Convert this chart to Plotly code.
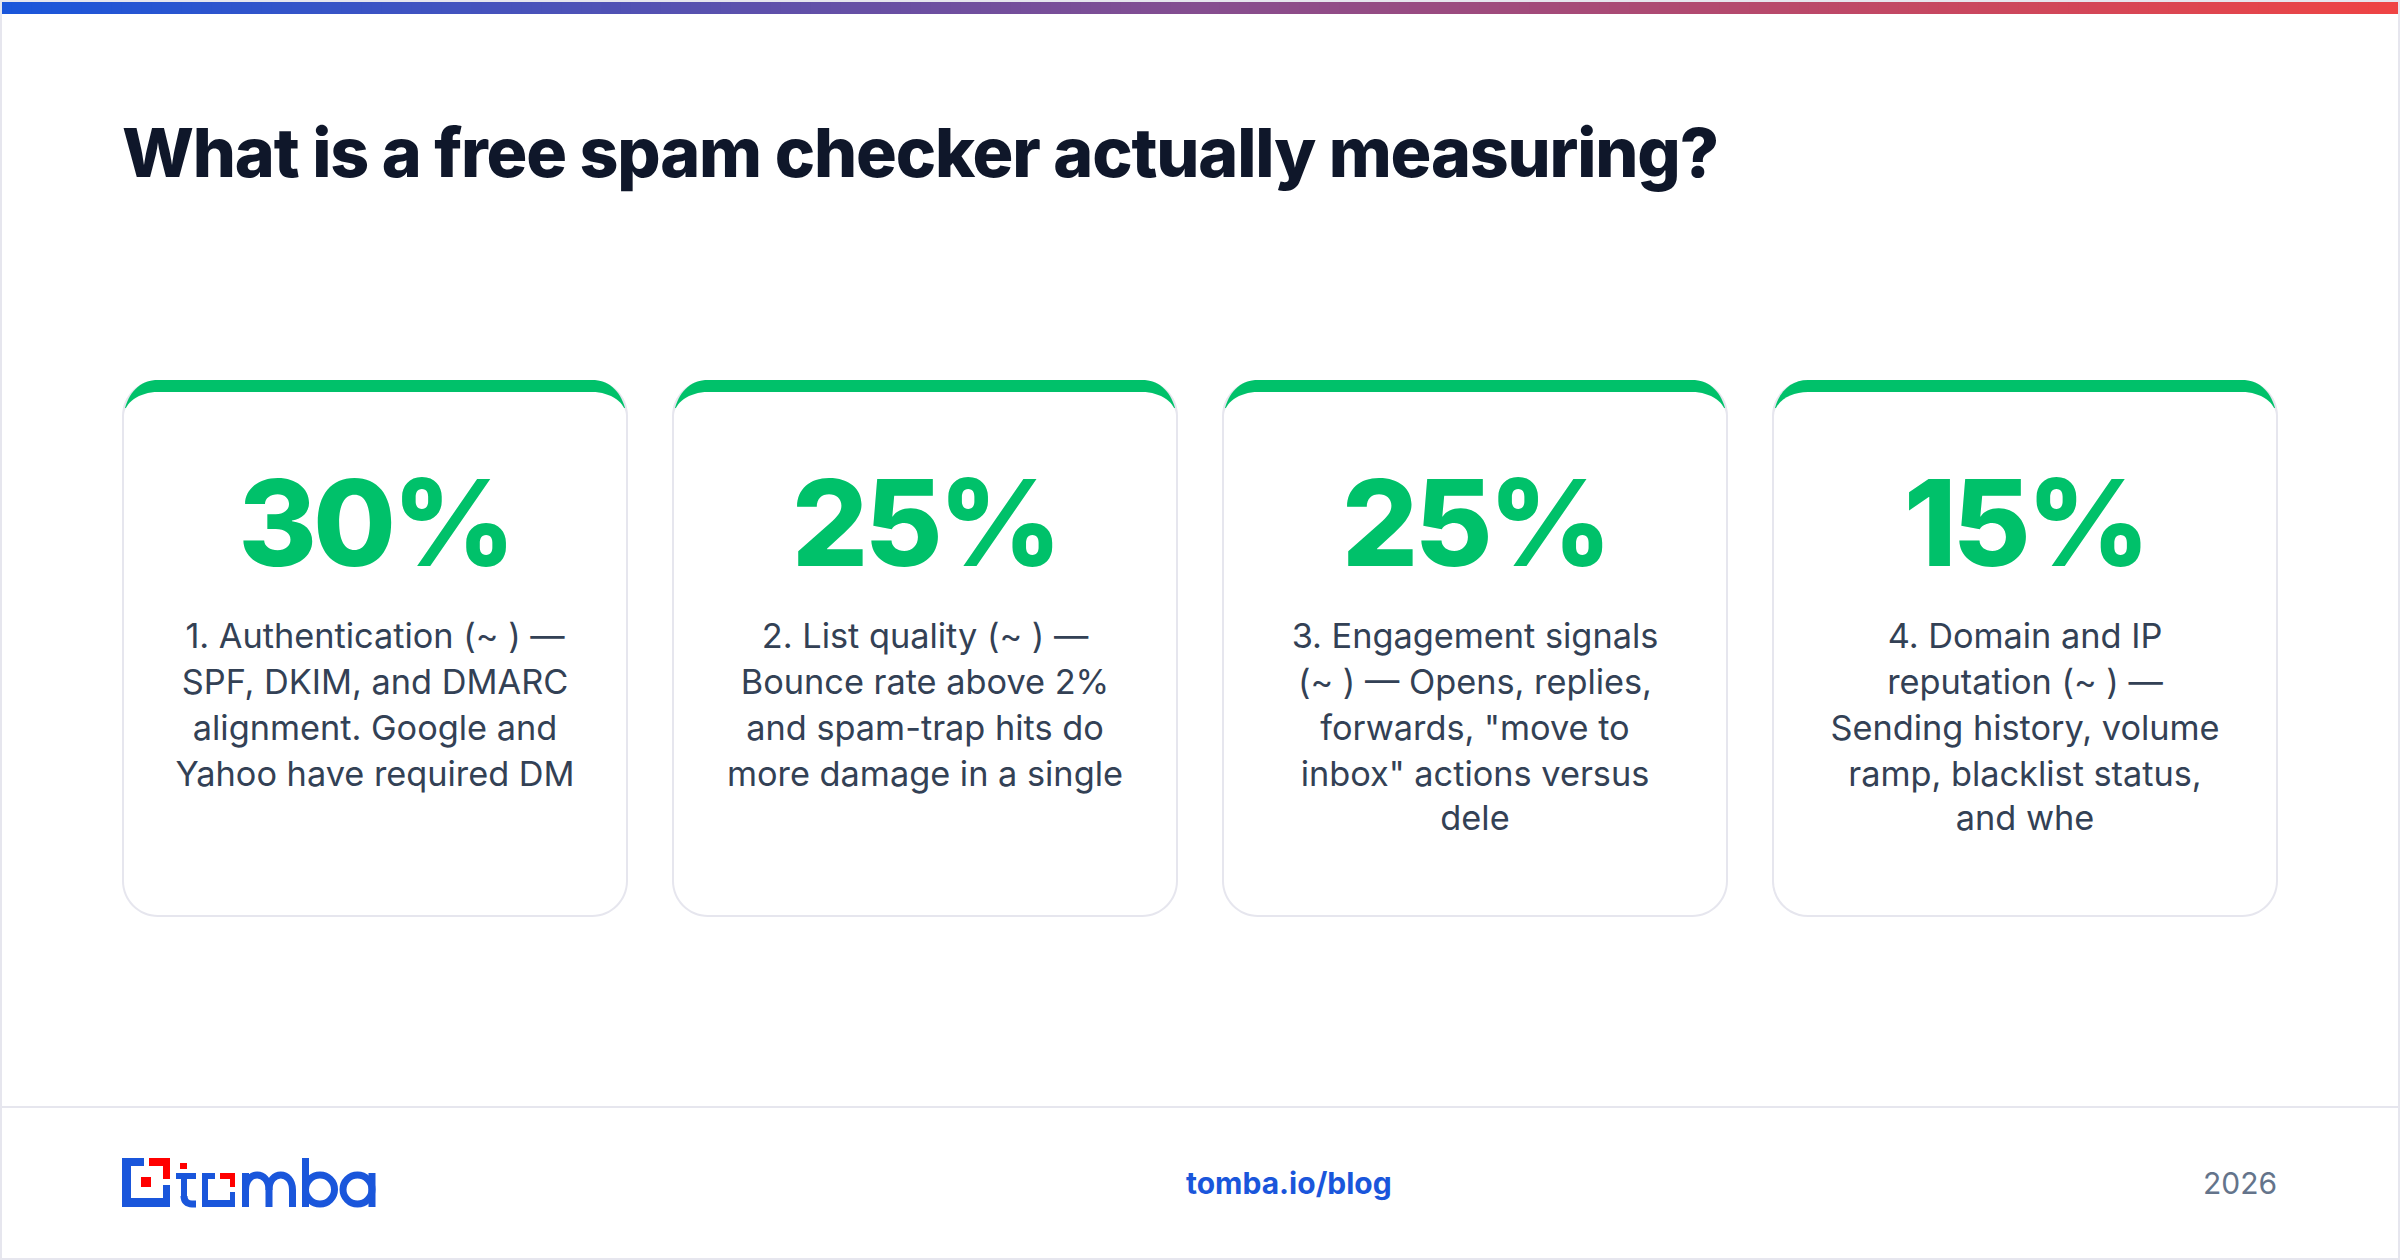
import plotly.graph_objects as go

title = "What is a free spam checker actually measuring?"
percents = ["30%", "25%", "25%", "15%"]
card_lines = [
    ["1. Authentication (~ ) —", "SPF, DKIM, and DMARC", "alignment. Google and", "Yahoo have required DM"],
    ["2. List quality (~ ) —", "Bounce rate above 2%", "and spam-trap hits do", "more damage in a single"],
    ["3. Engagement signals", "(~ ) — Opens, replies,", "forwards, \"move to", "inbox\" actions versus", "dele"],
    ["4. Domain and IP", "reputation (~ ) —", "Sending history, volume", "ramp, blacklist status,", "and whe"],
]
footer_link = "tomba.io/blog"
footer_year = "2026"

W, H = 2400, 1260
BLUE = "#1a56db"
RED = "#ff0000"
GREEN = "#00c16a"
BORDER = "#e6e6ee"
FONT = "Inter"

card_lefts = [122, 672, 1222, 1772]
card_w = 506
card_top, card_bottom = 380, 917
line_ys = [639, 685, 731, 777, 821]


def rounded(x0, y0, x1, y1, r, ry=None):
    ry = ry or r
    k = 0.448
    return (
        f"M{x0 + r},{y0} L{x1 - r},{y0} "
        f"C{x1 - r * k},{y0} {x1},{y0 + ry * k} {x1},{y0 + ry} "
        f"L{x1},{y1 - r} C{x1},{y1 - r * k} {x1 - r * k},{y1} {x1 - r},{y1} "
        f"L{x0 + r},{y1} C{x0 + r * k},{y1} {x0},{y1 - r * k} {x0},{y1 - r} "
        f"L{x0},{y0 + ry} C{x0},{y0 + ry * k} {x0 + r * k},{y0} {x0 + r},{y0} Z"
    )


def rect(x0, y0, x1, y1, color):
    return dict(type="rect", x0=x0, y0=y0, x1=x1, y1=y1, fillcolor=color, line_width=0, layer="below")


shapes = []

# page frame and footer rule
shapes.append(dict(type="rect", x0=1, y0=1, x1=W - 1, y1=H - 1, fillcolor="white",
                   line=dict(color=BORDER, width=2), layer="below"))
shapes.append(rect(2, 1106, W - 2, 1108, BORDER))

# top gradient bar, each step paints up to the right end so no seams show
steps = 240
for i in range(steps):
    t = i / (steps - 1)
    c = [round(a + (b - a) * t) for a, b in zip((0x1a, 0x56, 0xdb), (0xef, 0x44, 0x44))]
    shapes.append(rect(2 + (W - 4) * i / steps, 2, W - 2, 14, f"rgb({c[0]},{c[1]},{c[2]})"))

# cards
for left in card_lefts:
    right = left + card_w
    for spread in range(20, 0, -2):
        shapes.append(dict(type="path", path=rounded(left - spread, card_top + 6 - spread, right + spread,
                                                     card_bottom + 6 + spread, 36 + spread),
                           fillcolor="rgba(15,23,42,0.0016)", line_width=0, layer="below"))
    shapes.append(dict(type="path", path=rounded(left, card_top, right, card_bottom, 36),
                       fillcolor=BORDER, line_width=0, layer="below"))
    cap = (
        f"M{left + 3},{card_top + 28} C{left + 8},{card_top + 10} {left + 20},{card_top} {left + 36},{card_top} "
        f"L{right - 36},{card_top} C{right - 20},{card_top} {right - 8},{card_top + 10} {right - 3},{card_top + 28} Z"
    )
    shapes.append(dict(type="path", path=cap, fillcolor=GREEN, line_width=0, layer="below"))
    shapes.append(dict(type="path", path=rounded(left + 2, card_top + 12, right - 2, card_bottom - 2, 34, 24),
                       fillcolor="white", line_width=0, layer="below"))

# logo mark
for x0, y0, x1, y1 in [(122, 1158, 131, 1207), (122, 1158, 144, 1166), (122, 1198, 170, 1207), (163, 1185, 170, 1207),
                       (181, 1173, 187, 1198), (176, 1173, 196, 1179),
                       (202, 1173, 208, 1207), (202, 1173, 215, 1179), (202, 1200, 235, 1207), (230, 1192, 235, 1207)]:
    shapes.append(rect(x0, y0, x1, y1, BLUE))
for x0, y0, x1, y1 in [(149, 1158, 170, 1166), (163, 1158, 170, 1179), (141, 1177, 151, 1187),
                       (180, 1163, 187, 1169), (220, 1173, 235, 1179), (230, 1173, 235, 1187)]:
    shapes.append(rect(x0, y0, x1, y1, RED))

stroke = dict(color=BLUE, width=7)
for path in [
    "M184,1196 C184,1201 187,1204 192,1204 L196,1204",
    "M245.5,1207 L245.5,1173",
    "M245.5,1190 C245.5,1170 269,1170 269,1190 L269,1207",
    "M269,1190 C269,1170 292.5,1170 292.5,1190 L292.5,1207",
    "M305.5,1158 L305.5,1207",
    "M372,1173 L372,1207",
]:
    shapes.append(dict(type="path", path=path, line=stroke, layer="below"))
for cx in (320, 357.5):
    shapes.append(dict(type="circle", x0=cx - 14.5, y0=1175, x1=cx + 14.5, y1=1204, line=stroke, layer="below"))

fig = go.Figure()

# heading
fig.add_trace(go.Scatter(
    x=[122],
    y=[159.5],
    mode="text",
    text=[title],
    textposition="middle right",
    textfont=dict(family=FONT, size=68, weight=800, color="#0f172a"),
    hoverinfo="skip",
    showlegend=False,
))

# big percentages
fig.add_trace(go.Scatter(
    x=[left + card_w / 2 for left in card_lefts],
    y=[536] * len(percents),
    mode="text",
    text=percents,
    textposition="middle center",
    textfont=dict(family=FONT, size=120, weight=800, color=GREEN),
    hoverinfo="skip",
    showlegend=False,
))

# card body text
for left, lines in zip(card_lefts, card_lines):
    fig.add_trace(go.Scatter(
        x=[left + card_w / 2] * len(lines),
        y=line_ys[:len(lines)],
        mode="text",
        text=lines,
        textposition="middle center",
        textfont=dict(family=FONT, size=34.3, color="#334155"),
        hoverinfo="skip",
        showlegend=False,
    ))

annotations = [
    dict(x=1288.5, y=1183, text=footer_link,
         font=dict(family=FONT, size=30, weight=700, color=BLUE)),
    dict(x=2278, y=1183, text=footer_year, xanchor="right",
         font=dict(family=FONT, size=30, color="#64748b")),
]
for a in annotations:
    a.update(xref="x", yref="y", showarrow=False, borderpad=0)

fig.update_layout(
    width=W,
    height=H,
    margin=dict(l=0, r=0, t=0, b=0),
    paper_bgcolor="white",
    plot_bgcolor="white",
    shapes=shapes,
    annotations=annotations,
    xaxis=dict(range=[0, W], visible=False, fixedrange=True),
    yaxis=dict(range=[H, 0], visible=False, fixedrange=True),
)

# plotly has no letter spacing option, the heading and big numbers need it
tighten = """
document.body.style.margin='0';
document.body.style.overflow='hidden';
function tighten() {
  document.querySelectorAll('.textpoint text').forEach(function (t) {
    var size = parseFloat(t.style.fontSize);
    if (size === 68) t.style.letterSpacing = '-1.17px';
    if (size === 120) t.style.letterSpacing = '-4px';
  });
}
tighten();
setTimeout(tighten, 0);
"""

fig.write_html("out.html", config={"displayModeBar": False}, post_script=tighten)
